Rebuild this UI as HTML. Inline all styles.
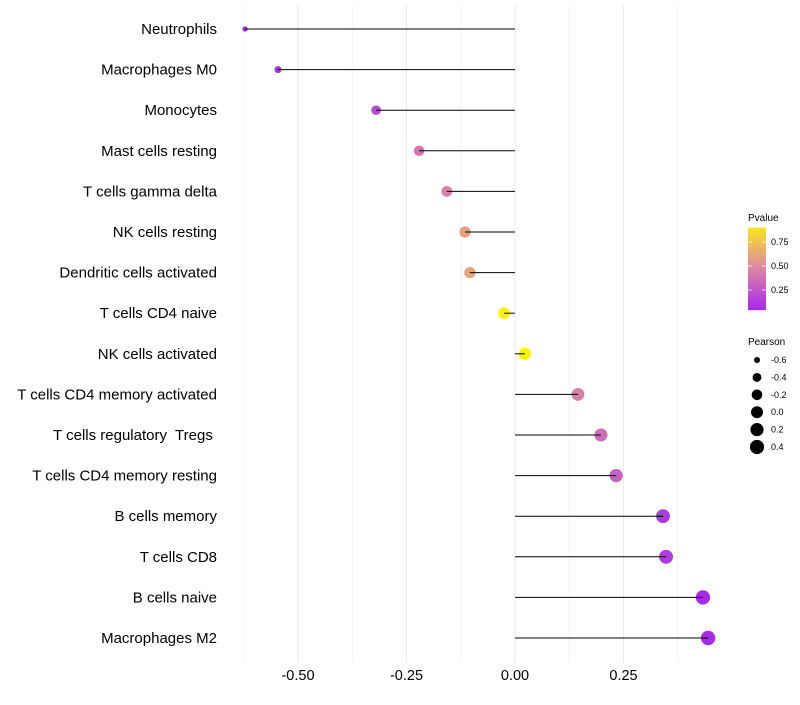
<!DOCTYPE html>
<html><head><meta charset="utf-8"><style>
body{margin:0;background:#fff;font-family:"Liberation Sans",sans-serif}
</style></head><body>
<svg id="c" width="800" height="700" xmlns="http://www.w3.org/2000/svg"></svg>
<script>
const categories=["Neutrophils","Macrophages M0","Monocytes","Mast cells resting","T cells gamma delta","NK cells resting","Dendritic cells activated","T cells CD4 naive","NK cells activated","T cells CD4 memory activated","T cells regulatory  Tregs ","T cells CD4 memory resting","B cells memory","T cells CD8","B cells naive","Macrophages M2"];
const pearson=[-0.622,-0.546,-0.320,-0.221,-0.157,-0.115,-0.104,-0.025,0.023,0.145,0.198,0.233,0.341,0.348,0.433,0.445];
const pvalues=[0.05,0.08,0.2,0.4,0.45,0.6,0.62,0.96,0.95,0.45,0.35,0.3,0.12,0.12,0.05,0.05];
const xTicks=[-0.5,-0.25,0,0.25];
const xTickLabels=["-0.50","-0.25","0.00","0.25"];
const xMinor=[-0.625,-0.375,-0.125,0.125,0.375];
const pTicks=[0.25,0.5,0.75];
const sizeBreaks=[-0.6,-0.4,-0.2,0.0,0.2,0.4];
const sizeLabels=["-0.6","-0.4","-0.2","0.0","0.2","0.4"];

const svg=document.getElementById('c');
const NS="http://www.w3.org/2000/svg";
function mk(t,a,p){const e=document.createElementNS(NS,t);for(const k in a)e.setAttribute(k,a[k]);(p||svg).appendChild(e);return e;}
const X=v=>515+v*434;
const Y=i=>29+i*40.6;
const R=v=>2+5.2*Math.sqrt(Math.max(0,(v+0.64)/1.09));
function lerp(a,b,t){return a.map((x,i)=>Math.round(x+(b[i]-x)*t));}
const stops=[[0,[160,32,240]],[0.5,[222,140,160]],[1,[255,250,0]]];
function col(p){for(let i=0;i<stops.length-1;i++){if(p<=stops[i+1][0]){const t=(p-stops[i][0])/(stops[i+1][0]-stops[i][0]);const c=lerp(stops[i][1],stops[i+1][1],Math.max(0,t));return `rgb(${c})`;}}return `rgb(${stops[2][1]})`;}

const grid=mk('g',{});


xMinor.forEach(v=>mk('line',{x1:X(v),x2:X(v),y1:5,y2:662,stroke:'#f4f4f4','stroke-width':1},grid));
xTicks.forEach(v=>mk('line',{x1:X(v),x2:X(v),y1:5,y2:662,stroke:'#ebebeb','stroke-width':1},grid));

const xa=mk('g',{});


xTicks.forEach((v,i)=>{const t=mk('text',{x:X(v),y:680,'text-anchor':'middle','font-size':14.5,fill:'#000'},xa);t.textContent=xTickLabels[i];});

categories.forEach((c,i)=>{
  const g=mk('g',{});
  
  
  const t=mk('text',{x:217,y:Y(i)+5,'text-anchor':'end','font-size':15,fill:'#000','xml:space':'preserve'},g);t.textContent=c;
  t.style.whiteSpace='pre';
  mk('circle',{cx:X(pearson[i]),cy:Y(i),r:R(pearson[i]),fill:col(pvalues[i])},g);
  mk('line',{x1:X(0),x2:X(pearson[i]),y1:Y(i),y2:Y(i),stroke:'#000','stroke-width':1},g);
});

const lg=mk('g',{});


const tt=mk('text',{x:748,y:221,'font-size':10,fill:'#000'},lg);tt.textContent='Pvalue';
const defs=mk('defs',{});
const gr=mk('linearGradient',{id:'pg',x1:0,y1:1,x2:0,y2:0},defs);
[0.04,0.25,0.5,0.75,0.9].forEach((p,i)=>mk('stop',{offset:(p-0.04)/0.86,'stop-color':col(p)},gr));
const PY=p=>314-p*96;
mk('rect',{x:748,y:PY(0.9),width:18,height:PY(0.04)-PY(0.9),fill:'url(#pg)'},lg);
pTicks.forEach(p=>{
  mk('line',{x1:748,x2:752,y1:PY(p),y2:PY(p),stroke:'#fff','stroke-width':0.7},lg);
  mk('line',{x1:762,x2:766,y1:PY(p),y2:PY(p),stroke:'#fff','stroke-width':0.7},lg);
  const t=mk('text',{x:771,y:PY(p)+3,'font-size':9,fill:'#000'},lg);t.textContent=p.toFixed(2);
});

const sg=mk('g',{});


const st=mk('text',{x:748,y:345,'font-size':10,fill:'#000'},sg);st.textContent='Pearson';
sizeBreaks.forEach((v,i)=>{
  const y=360+i*17.4;
  mk('circle',{cx:757,cy:y,r:R(v),fill:'#000'},sg);
  const t=mk('text',{x:771,y:y+3,'font-size':9,fill:'#000'},sg);t.textContent=sizeLabels[i];
});
</script>
</body></html>
